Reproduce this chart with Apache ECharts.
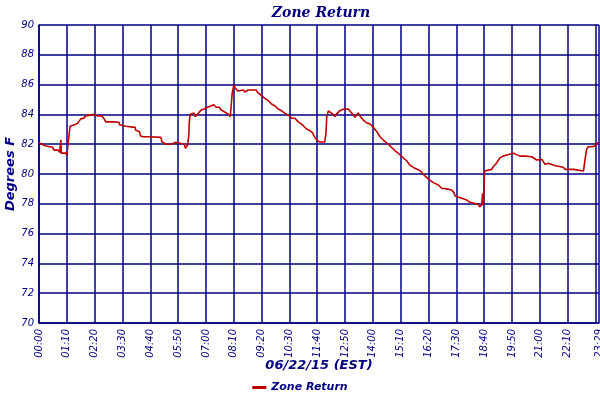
<!DOCTYPE html>
<html>
<head>
<meta charset="utf-8">
<script src="https://cdn.jsdelivr.net/npm/echarts@6/dist/echarts.min.js"></script>
<style>html,body{margin:0;padding:0;background:#fff}#c{width:600px;height:400px}</style>
</head>
<body>
<div id="c"></div>
<script>
// minutes since 00:00 on 06/22/15
var minutes = [0,4,15,19,34,36,38,48,52,55,56,67,70,73,76,78,80,91,92,97,101,105,109,113,118,122,138,147,158,164,168,185,187,201,203,206,218,220,242,243,248,253,255,261,278,307,309,311,320,332,335,345,346,366,368,373,374,377,378,380,383,390,393,398,401,408,416,425,433,439,443,446,454,458,467,471,477,481,483,486,490,494,500,505,514,518,526,547,549,554,560,568,577,585,594,602,610,619,627,636,644,652,658,665,673,682,688,694,700,707,719,722,724,728,732,740,745,748,757,765,778,782,789,795,803,809,816,824,833,841,850,858,866,879,887,896,904,913,925,933,946,959,971,980,992,1005,1013,1026,1038,1044,1047,1064,1076,1084,1105,1108,1114,1116,1118,1121,1139,1143,1147,1152,1156,1160,1168,1177,1181,1194,1202,1210,1223,1240,1244,1252,1256,1265,1269,1273,1282,1286,1299,1303,1319,1324,1345,1347,1370,1374,1378,1382,1391,1399,1404,1408];
var zoneReturn = [82.1,82.0,81.9,81.8,81.8,81.7,81.6,81.6,81.45,82.3,81.4,81.4,81.25,81.2,82.7,83.2,83.3,83.33,83.2,83.4,83.5,83.7,83.8,83.75,83.9,84.0,84.0,83.9,83.9,83.7,83.5,83.5,83.47,83.47,83.3,83.2,83.2,83.13,83.13,82.95,82.87,82.84,82.57,82.5,82.5,82.46,82.17,82.06,82.0,82.0,82.13,82.13,82.0,82.0,81.72,81.72,81.95,82.6,83.4,84.0,84.1,84.1,83.85,83.85,84.07,84.3,84.36,84.5,84.56,84.65,84.56,84.48,84.48,84.3,84.16,84.07,84.0,83.85,84.4,85.4,85.97,85.75,85.57,85.6,85.64,85.5,85.64,85.64,85.5,85.37,85.26,85.08,84.92,84.7,84.56,84.36,84.25,84.07,83.96,83.74,83.74,83.5,83.4,83.24,83.02,82.9,82.77,82.46,82.24,82.15,82.15,82.73,83.85,84.23,84.1,84.0,83.85,84.0,84.25,84.34,84.36,84.3,84.03,83.8,84.1,83.85,83.62,83.44,83.36,83.13,82.84,82.5,82.28,82.0,81.79,81.56,81.39,81.16,80.89,80.6,80.38,80.22,79.87,79.66,79.42,79.26,79.04,79.0,78.93,78.75,78.52,78.37,78.26,78.1,77.97,77.8,77.92,78.7,77.92,80.2,80.31,80.49,80.6,80.76,80.94,81.1,81.2,81.27,81.39,81.39,81.3,81.2,81.2,81.16,81.05,80.94,80.98,80.98,80.83,80.65,80.72,80.6,80.55,80.45,80.45,80.31,80.31,80.2,80.2,81.0,81.68,81.83,81.83,81.88,82.06,82.1];
var seriesName = 'Zone Return';
var xAxisTitle = '06/22/15 (EST)';
var yAxisTitle = 'Degrees F';
var xMin = 0, xMax = 1409, xStep = 70;
var yMin = 70, yMax = 90, yStep = 2;

var pts = minutes.map(function(m, i){ return [m, zoneReturn[i]]; });
function hhmm(v){ var h = Math.floor(v/60), m = Math.round(v%60); return (h<10?'0':'')+h+':'+(m<10?'0':'')+m; }
var navy = '#000080';
var chart = echarts.init(document.getElementById('c'), null, {renderer:'canvas'});
chart.setOption({
  animation:false,
  backgroundColor:'#ffffff',
  title:{text:seriesName,left:316,textAlign:'center',top:1,
    textStyle:{color:navy,fontFamily:'DejaVu Serif',fontStyle:'italic',fontWeight:'bold',fontSize:14}},
  legend:{bottom:2,left:'center',icon:'rect',itemWidth:14,itemHeight:3,itemGap:6,
    textStyle:{color:navy,fontFamily:'DejaVu Sans',fontStyle:'italic',fontWeight:'bold',fontSize:11},
    data:[seriesName]},
  grid:{left:39,right:1,top:25,bottom:77,containLabel:false,outerBoundsMode:'none'},
  xAxis:{type:'value',min:xMin,max:xMax,interval:xStep,
    name:xAxisTitle,nameLocation:'middle',nameGap:36,nameMoveOverlap:false,
    nameTextStyle:{color:navy,fontFamily:'DejaVu Sans',fontStyle:'italic',fontWeight:'bold',fontSize:13},
    axisLine:{show:true,lineStyle:{color:navy,width:1.5}},
    axisTick:{show:false},
    splitLine:{show:true,lineStyle:{color:navy,width:1.5}},
    axisLabel:{rotate:90,margin:6,color:navy,fontFamily:'DejaVu Sans',fontStyle:'italic',fontSize:10,
      hideOverlap:false,formatter:function(v){return hhmm(v);} ,showMinLabel:true,showMaxLabel:true}},
  yAxis:{type:'value',min:yMin,max:yMax,interval:yStep,
    name:yAxisTitle,nameLocation:'middle',nameGap:22,nameRotate:90,nameMoveOverlap:false,
    nameTextStyle:{color:navy,fontFamily:'DejaVu Sans',fontStyle:'italic',fontWeight:'bold',fontSize:13},
    axisLine:{show:true,lineStyle:{color:navy,width:1.5}},
    axisTick:{show:false},
    splitLine:{show:true,lineStyle:{color:navy,width:1.5}},
    axisLabel:{margin:5,color:navy,fontFamily:'DejaVu Sans',fontStyle:'italic',fontSize:10}},
  series:[{name:seriesName,type:'line',data:pts,showSymbol:false,symbol:'none',
    lineStyle:{color:'#c00000',width:1.6},itemStyle:{color:'#c00000'}}]
});
</script>
</body>
</html>
